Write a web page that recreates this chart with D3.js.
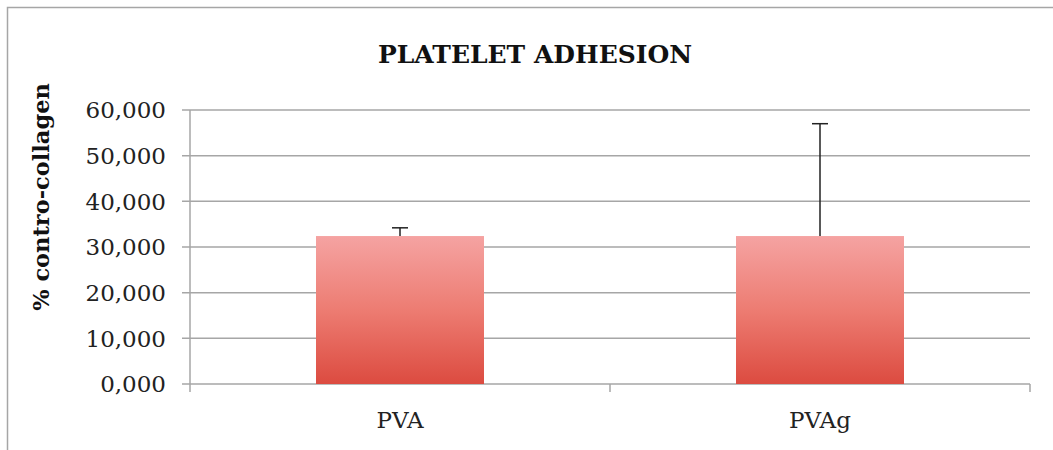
<!DOCTYPE html>
<html><head><meta charset="utf-8">
<script src="https://cdn.jsdelivr.net/npm/d3@7"></script>
<style>body{margin:0;background:#fff}svg{display:block}</style>
</head><body>
<script>
const categories = ["PVA", "PVAg"];
const values = [32.4, 32.4];
const errors = [1.8, 24.6];
const yTicks = [0, 10, 20, 30, 40, 50, 60];
const title = "PLATELET ADHESION";
const yTitle = "% contro-collagen";

const W = 1053, H = 450;
const m = {left: 190, right: 23, top: 110, bottom: 66};
const svg = d3.select("body").append("svg").attr("width", W).attr("height", H);
const font = "'DejaVu Serif', serif";

svg.append("rect").attr("x", 7.5).attr("y", 7.5).attr("width", W + 20).attr("height", H + 20)
  .attr("fill", "none").attr("stroke", "#a6a6a6").attr("stroke-width", 1.5);

const defs = svg.append("defs");
const grad = defs.append("linearGradient").attr("id", "g").attr("x1", 0).attr("y1", 0).attr("x2", 0).attr("y2", 1);
grad.append("stop").attr("offset", "0%").attr("stop-color", "#f5a3a2");
grad.append("stop").attr("offset", "50%").attr("stop-color", "#ed7c72");
grad.append("stop").attr("offset", "100%").attr("stop-color", "#dc4b40");

const x = d3.scaleBand().domain(categories).range([m.left, W - m.right]).paddingInner(0).paddingOuter(0);
const y = d3.scaleLinear().domain([0, 60]).range([H - m.bottom, m.top]);

// gridlines
svg.append("g").selectAll("line").data(yTicks).join("line")
  .attr("x1", m.left - 8).attr("x2", W - m.right)
  .attr("y1", d => y(d)).attr("y2", d => y(d))
  .attr("stroke", "#a6a6a6").attr("stroke-width", 1.5);

// y axis line
svg.append("line").attr("x1", m.left).attr("x2", m.left).attr("y1", y(60)).attr("y2", y(0) + 8)
  .attr("stroke", "#a6a6a6").attr("stroke-width", 1.5);
// x ticks
const bounds = [m.left + x.bandwidth(), W - m.right];
svg.append("g").selectAll("line").data(bounds).join("line")
  .attr("x1", d => d).attr("x2", d => d).attr("y1", y(0)).attr("y2", y(0) + 8)
  .attr("stroke", "#a6a6a6").attr("stroke-width", 1.5);

// y tick labels
svg.append("g").selectAll("text").data(yTicks).join("text")
  .attr("x", m.left - 24).attr("y", d => y(d)).attr("dy", "0.36em")
  .attr("text-anchor", "end").attr("font-family", font).attr("font-size", 23).attr("fill", "#222")
  .text(d => (d === 0 ? "0,000" : d + ",000"));

// bars
const bw = x.bandwidth() * 0.4;
svg.append("g").selectAll("rect").data(categories).join("rect")
  .attr("x", (d) => x(d) + (x.bandwidth() - bw) / 2)
  .attr("y", (d, i) => y(values[i]))
  .attr("width", bw)
  .attr("height", (d, i) => y(0) - y(values[i]))
  .attr("fill", "url(#g)");

// error bars
const eg = svg.append("g").attr("stroke", "#222").attr("stroke-width", 1.5);
categories.forEach((c, i) => {
  const cx = x(c) + x.bandwidth() / 2;
  eg.append("line").attr("x1", cx).attr("x2", cx).attr("y1", y(values[i])).attr("y2", y(values[i] + errors[i]));
  eg.append("line").attr("x1", cx - 8).attr("x2", cx + 8).attr("y1", y(values[i] + errors[i])).attr("y2", y(values[i] + errors[i]));
});

// x labels
svg.append("g").selectAll("text").data(categories).join("text")
  .attr("x", d => x(d) + x.bandwidth() / 2).attr("y", 428)
  .attr("text-anchor", "middle").attr("font-family", font).attr("font-size", 23).attr("fill", "#222")
  .text(d => d);

// title
svg.append("text").attr("x", 535).attr("y", 63).attr("text-anchor", "middle")
  .attr("font-family", font).attr("font-weight", "bold").attr("font-size", 25).attr("fill", "#111")
  .text(title);

// y title
svg.append("text").attr("transform", "translate(49,197) rotate(-90)").attr("text-anchor", "middle")
  .attr("font-family", font).attr("font-weight", "bold").attr("font-size", 22.5).attr("fill", "#111")
  .text(yTitle);
</script>
</body></html>
